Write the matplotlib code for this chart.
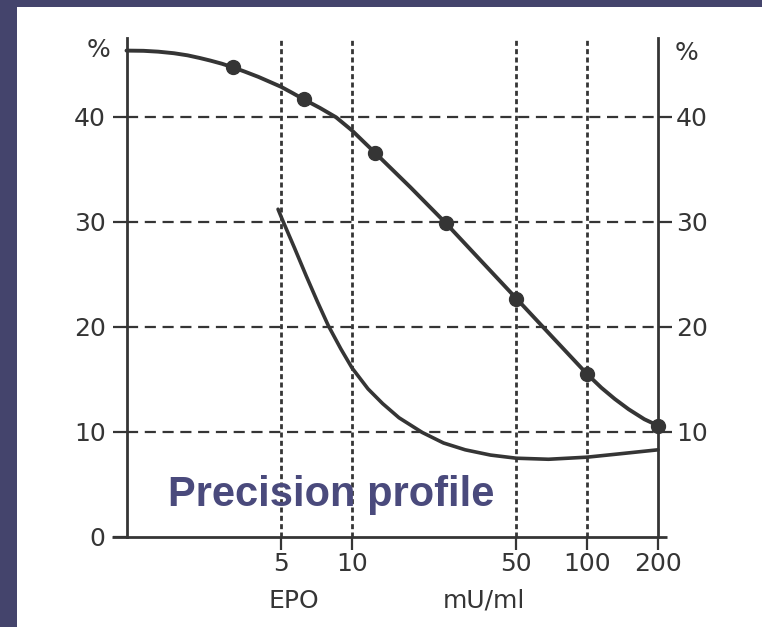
import matplotlib
matplotlib.use("Agg")
import matplotlib.pyplot as plt
from matplotlib.patches import Rectangle

# ---- data ----
x_ticks = [5, 10, 50, 100, 200]
x_tick_labels = ["5", "10", "50", "100", "200"]
y_ticks_left = [0, 10, 20, 30, 40]
y_ticks_right = [10, 20, 30, 40]
x_grid = [5, 10, 50, 100]

# measured points (dots) of the upper curve
dots_x = [3.125, 6.25, 12.5, 25, 50, 100, 200]
dots_y = [44.7, 41.65, 36.6, 29.9, 22.7, 15.5, 10.6]

# traced upper curve
upper_x = [1.1, 1.3, 1.5, 1.75, 2.0, 2.25, 2.5, 2.8, 3.125, 3.5, 4.0, 4.5, 5.0, 5.6, 6.25,
           7.3, 8.56, 10.0, 11.0, 12.5, 17.7, 25, 35, 50, 70, 100, 115, 131, 150, 175, 200]
upper_y = [46.3, 46.28, 46.2, 46.05, 45.85, 45.6, 45.35, 45.05, 44.7, 44.3, 43.8, 43.3, 42.85, 42.25, 41.65,
           40.85, 39.95, 38.7, 37.8, 36.6, 33.3, 29.9, 26.4, 22.7, 19.2, 15.5, 14.2, 13.14, 12.16, 11.21, 10.6]

# traced lower curve (precision profile)
lower_x = [4.85, 5.07, 5.7, 6.39, 7.13, 7.94, 8.97, 10.0, 11.7, 13.5, 15.85, 19.9, 24.5, 30.3,
           38.8, 50.0, 68.5, 100.0, 135.0, 200.0]
lower_y = [31.2, 30.15, 27.5, 24.85, 22.4, 20.1, 17.9, 16.1, 14.1, 12.7, 11.35, 9.95, 8.95, 8.3,
           7.8, 7.5, 7.4, 7.6, 7.9, 8.3]

ink = "#353535"
W, H = 762, 627
FS = 18

fig = plt.figure(figsize=(W / 100, H / 100), dpi=100, facecolor="#44446c")
fig.patches.append(Rectangle((17 / W, 0), 1, 1 - 7 / H, transform=fig.transFigure,
                             facecolor="white", edgecolor="none", zorder=-10))

left, right = 126.5 / W, 658 / W
bottom, top = 1 - 537 / H, 1 - 38 / H
ax = fig.add_axes([left, bottom, right - left, top - bottom])
ax.set_facecolor("none")
ax.set_xscale("log")
ax.set_xlim(1.1, 200)
ax.set_ylim(0, 47.5)

for s in ["top", "bottom"]:
    ax.spines[s].set_visible(False)
for s in ["left", "right"]:
    ax.spines[s].set_color(ink)
    ax.spines[s].set_linewidth(2.0)

# bottom axis line extending past both vertical axes
ax.plot([-0.027, 1.017], [0, 0], transform=ax.get_yaxis_transform(), color=ink,
        lw=2.0, clip_on=False, solid_capstyle="butt")

# grid lines
for yv in y_ticks_right:
    ax.axhline(yv, color=ink, lw=1.6, linestyle=(0, (5, 3)), zorder=1)
for xv in x_grid:
    ax.axvline(xv, color=ink, lw=2.0, linestyle=(0, (1.8, 1.2)), zorder=1)

# curves
ax.plot(upper_x, upper_y, color=ink, lw=2.8, solid_capstyle="round", solid_joinstyle="round",
        zorder=3, clip_on=False)
ax.plot(dots_x, dots_y, "o", color=ink, markersize=10, zorder=4, clip_on=False)
ax.plot(lower_x, lower_y, color=ink, lw=2.6, solid_capstyle="round", solid_joinstyle="round",
        zorder=3, clip_on=False)

# ticks
ax.set_xticks(x_ticks)
ax.set_xticklabels(x_tick_labels)
ax.xaxis.set_minor_locator(matplotlib.ticker.NullLocator())
ax.set_yticks(y_ticks_left)
ax.tick_params(axis="x", direction="out", length=9, width=1.6, color=ink, pad=1.5,
               labelsize=FS, labelcolor=ink)
ax.tick_params(axis="y", direction="out", length=10, width=1.6, color=ink, pad=5,
               labelsize=FS, labelcolor=ink)

ax2 = ax.twinx()
ax2.set_ylim(0, 47.5)
ax2.set_yticks(y_ticks_right)
for s in ax2.spines.values():
    s.set_visible(False)
ax2.tick_params(axis="y", direction="out", length=10, width=1.6, color=ink, pad=3,
                labelsize=FS, labelcolor=ink)

# texts
fig.text(98 / W, 1 - 50 / H, "%", ha="center", va="center", fontsize=FS, color=ink)
fig.text(686 / W, 1 - 53 / H, "%", ha="center", va="center", fontsize=FS, color=ink)
fig.text(294 / W, 1 - 601 / H, "EPO", ha="center", va="center", fontsize=FS, color=ink)
fig.text(484 / W, 1 - 601 / H, "mU/ml", ha="center", va="center", fontsize=FS, color=ink)
fig.text(168 / W, 1 - 506 / H, "Precision profile", ha="left", va="baseline",
         fontsize=30, fontweight="bold", family="Liberation Sans", color="#4a4a7c", zorder=10)

fig.savefig("out.png", dpi=100, facecolor=fig.get_facecolor())
